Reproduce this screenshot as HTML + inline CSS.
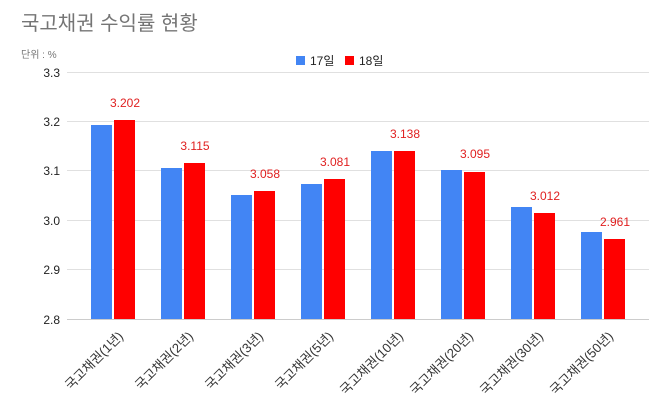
<!DOCTYPE html>
<html><head><meta charset="utf-8"><style>
body{margin:0;background:#fff;}
svg{display:block;font-family:"Liberation Sans","Noto Sans CJK KR",sans-serif;}
</style></head><body>
<svg width="670" height="413" viewBox="0 0 670 413">
<rect width="670" height="413" fill="#fff"/>
<text x="21" y="30" font-size="20" fill="#757575">국고채권 수익률 현황</text>
<text x="21" y="58" font-size="10" fill="#757575">단위 : %</text>
<rect x="296" y="56" width="9" height="9" fill="#4285f4"/>
<text x="310" y="65" font-size="12" fill="#222">17일</text>
<rect x="345" y="56" width="9" height="9" fill="#ff0000"/>
<text x="359" y="65" font-size="12" fill="#222">18일</text>
<g stroke="#e0e0e0" stroke-width="1">
<line x1="67" x2="649" y1="72.5" y2="72.5"/>
<line x1="67" x2="649" y1="121.5" y2="121.5"/>
<line x1="67" x2="649" y1="170.5" y2="170.5"/>
<line x1="67" x2="649" y1="220.5" y2="220.5"/>
<line x1="67" x2="649" y1="269.5" y2="269.5"/>
</g>
<g font-size="12" fill="#222" text-anchor="end">
<text x="60" y="77">3.3</text><text x="60" y="126">3.2</text><text x="60" y="175">3.1</text>
<text x="60" y="225">3.0</text><text x="60" y="274">2.9</text><text x="60" y="324">2.8</text>
</g>
<g fill="#4285f4">
<rect x="91" y="125" width="21" height="194"/>
<rect x="161" y="168" width="21" height="151"/>
<rect x="231" y="195" width="21" height="124"/>
<rect x="301" y="184" width="21" height="135"/>
<rect x="371" y="151" width="21" height="168"/>
<rect x="441" y="170" width="21" height="149"/>
<rect x="511" y="207" width="21" height="112"/>
<rect x="581" y="232" width="21" height="87"/>
</g>
<g fill="#ff0000">
<rect x="114" y="120" width="21" height="199"/>
<rect x="184" y="163" width="21" height="156"/>
<rect x="254" y="191" width="21" height="128"/>
<rect x="324" y="179" width="21" height="140"/>
<rect x="394" y="151" width="21" height="168"/>
<rect x="464" y="172" width="21" height="147"/>
<rect x="534" y="213" width="21" height="106"/>
<rect x="604" y="239" width="21" height="80"/>
</g>
<line x1="67" x2="649" y1="319.5" y2="319.5" stroke="#ccc"/>
<g font-size="12" fill="#e02020" text-anchor="middle">
<text x="125" y="107">3.202</text><text x="195" y="150">3.115</text>
<text x="265" y="178">3.058</text><text x="335" y="166">3.081</text>
<text x="405" y="138">3.138</text><text x="475" y="158">3.095</text>
<text x="545" y="200">3.012</text><text x="615" y="226">2.961</text>
</g>
<g font-size="13" fill="#333" text-anchor="end">
<text transform="translate(124,337) rotate(-45)">국고채권(1년)</text>
<text transform="translate(194,337) rotate(-45)">국고채권(2년)</text>
<text transform="translate(264,337) rotate(-45)">국고채권(3년)</text>
<text transform="translate(334,337) rotate(-45)">국고채권(5년)</text>
<text transform="translate(404,337) rotate(-45)">국고채권(10년)</text>
<text transform="translate(474,337) rotate(-45)">국고채권(20년)</text>
<text transform="translate(544,337) rotate(-45)">국고채권(30년)</text>
<text transform="translate(614,337) rotate(-45)">국고채권(50년)</text>
</g>
</svg>
</body></html>
